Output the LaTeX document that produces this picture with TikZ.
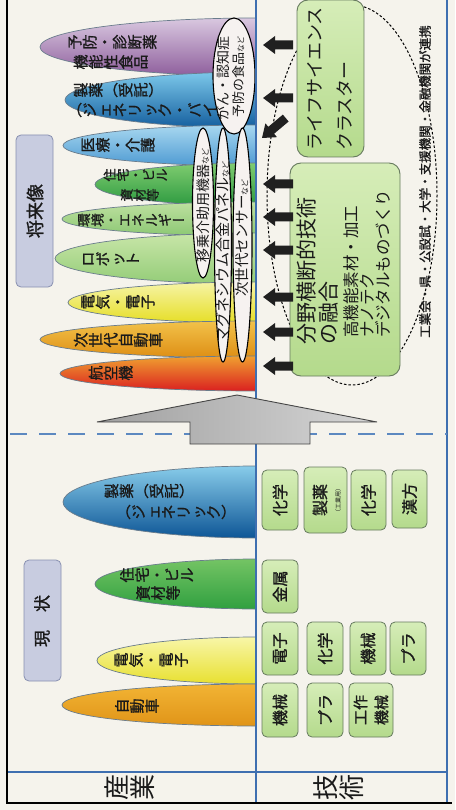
\documentclass[tikz,border=0pt]{standalone}
\usepackage{fontspec}
\usepackage{graphicx}
\newfontfamily\jp{Noto Sans CJK JP}
\newfontfamily\jpb[FakeBold=1.2]{Noto Sans CJK JP}
\makeatletter
\def\tv@end{\tv@end}
\def\tv@loop#1{\ifx#1\tv@end\else\tv@char#1\expandafter\tv@loop\fi}
\newcommand\tv[1]{\tv@loop#1\tv@end}
\def\tv@char#1{\ifx#1ー\makebox[1em]{#1}\else\ifx#1（\makebox[1em]{#1}\else\ifx#1）\makebox[1em]{#1}\else\rotatebox[origin=c]{90}{\makebox[1em]{\rule[-0.12em]{0pt}{1em}#1}}\fi\fi\fi}
\makeatother
\definecolor{bg}{HTML}{F5F3EC}
\definecolor{blueline}{HTML}{3E6FB0}
\definecolor{dashblue}{HTML}{5C88C0}
\definecolor{ellline}{HTML}{6A7C8C}
\definecolor{txtc}{HTML}{1A1A1A}
\definecolor{welfill}{HTML}{F6F2F0}
\definecolor{gtop}{HTML}{D6EDB8}
\definecolor{gbot}{HTML}{B4DA8C}
\definecolor{gline}{HTML}{667A5E}
\definecolor{labfill}{HTML}{C8CCE0}
\definecolor{labline}{HTML}{8890B0}
\definecolor{arrfill}{HTML}{202020}
\usetikzlibrary{shapes.geometric}
\begin{document}
\begin{tikzpicture}[x=1pt,y=-1pt,
  ell/.style={draw=ellline, line width=0.7pt},
  wel/.style={draw=black, line width=1.1pt, fill=welfill},
  tt/.style={inner sep=0pt, anchor=west, font=\jpb\fontsize{15}{15}\selectfont, text=txtc},
  ttc/.style={inner sep=0pt, font=\jpb\fontsize{15}{15}\selectfont, text=txtc},
  yk/.style={inner sep=0pt, rotate=90, text=txtc},
  gbig/.style={draw=gline, line width=0.9pt, rounded corners=11pt, top color=gtop, bottom color=gbot},
  sbox/.style={draw=gline, line width=0.8pt, rounded corners=5pt, top color=gtop, bottom color=gbot, rotate=90, inner sep=0pt, text=txtc, font=\jpb\fontsize{16}{17}\selectfont},
  lab/.style={draw=labline, line width=0.8pt, fill=labfill, rounded corners=5pt},
  arr/.style={fill=arrfill},
  bline/.style={draw=blueline, line width=2.2pt},
]
\useasboundingbox (0,0) rectangle (455,810);
\fill[bg] (0,0) rectangle (455,810);

% ---------- future ellipses ----------
\begin{scope}
\clip (8,0) rectangle (256,430);
\path[ell, top color={rgb,255:red,217;green,200;blue,224}, bottom color={rgb,255:red,142;green,94;blue,156}] (257,47) ellipse [x radius=217, y radius=29];
\node[tt] (f1a) at (67,42) {\tv{予防・診断薬}};
\node[tt] (f1b) at (73,62) {\tv{機能性食品}};
\path[ell, top color={rgb,255:red,124;green,200;blue,234}, bottom color={rgb,255:red,20;green,94;blue,158}] (257,100) ellipse [x radius=192, y radius=28];
\node[tt] (f2a) at (73,90) {\tv{製薬（受託）}};
\node[tt] (f2b) at (67,110) {\tv{（ジェネリック・バイオ）}};
\path[ell, top color={rgb,255:red,168;green,216;blue,240}, bottom color={rgb,255:red,78;green,154;blue,210}] (257,145.5) ellipse [x radius=194, y radius=20.5];
\node[tt] (f3) at (80,145) {\tv{医療・介護}};
\path[ell, top color={rgb,255:red,128;green,204;blue,112}, bottom color={rgb,255:red,44;green,154;blue,64}] (257,184.5) ellipse [x radius=162, y radius=21.5];
\node[tt, font=\jpb\fontsize{13}{13}\selectfont] (f4a) at (103,175) {\tv{住宅・ビル}};
\node[tt, font=\jpb\fontsize{13}{13}\selectfont] (f4b) at (120,195) {\tv{資材等}};
\path[ell, top color={rgb,255:red,190;green,224;blue,160}, bottom color={rgb,255:red,140;green,200;blue,116}] (257,219) ellipse [x radius=195, y radius=17];
\node[tt, font=\jpb\fontsize{13.5}{13.5}\selectfont] (f5) at (77,220) {\tv{環境・エネルギー}};
\path[ell, top color={rgb,255:red,200;green,230;blue,168}, bottom color={rgb,255:red,148;green,204;blue,120}] (257,258.5) ellipse [x radius=202, y radius=25.5];
\node[tt] (f6) at (80,259) {\tv{ロボット}};
\path[ell, top color={rgb,255:red,246;green,244;blue,166}, bottom color={rgb,255:red,230;green,222;blue,38}] (257,302.5) ellipse [x radius=189, y radius=20.5];
\node[tt] (f7) at (80,302) {\tv{電気・電子}};
\path[ell, top color={rgb,255:red,242;green,194;blue,74}, bottom color={rgb,255:red,222;green,142;blue,20}] (257,339.5) ellipse [x radius=217, y radius=18.5];
\node[tt] (f8) at (73,340) {\tv{次世代自動車}};
\path[ell, top color={rgb,255:red,240;green,160;blue,48}, bottom color={rgb,255:red,218;green,32;blue,32}] (257,373.5) ellipse [x radius=197, y radius=17.5];
\node[tt] (f9) at (88,373) {\tv{航空機}};
\end{scope}

% ---------- current ellipses ----------
\begin{scope}
\clip (8,440) rectangle (256,770);
\path[ell, top color={rgb,255:red,136;green,204;blue,234}, bottom color={rgb,255:red,14;green,86;blue,150}] (257,502) ellipse [x radius=194, y radius=36];
\node[ttc] (c1a) at (149,491) {\tv{製薬（受託）}};
\node[ttc] (c1b) at (176,512) {\tv{（ジェネリック）}};
\path[ell, top color={rgb,255:red,116;green,196;blue,100}, bottom color={rgb,255:red,48;green,160;blue,64}] (257,584) ellipse [x radius=162, y radius=25];
\node[ttc] (c2a) at (157,575) {\tv{住宅・ビル}};
\node[ttc] (c2b) at (158,593) {\tv{資材等}};
\path[ell, top color={rgb,255:red,248;green,246;blue,168}, bottom color={rgb,255:red,232;green,224;blue,48}] (257,660.5) ellipse [x radius=160, y radius=23.5];
\node[ttc] (c3) at (151,660) {\tv{電気・電子}};
\path[ell, top color={rgb,255:red,242;green,180;blue,52}, bottom color={rgb,255:red,224;green,148;blue,24}] (257,705) ellipse [x radius=195, y radius=21];
\node[ttc] (c4) at (137,706) {\tv{自動車}};
\end{scope}

% ---------- narrow white ellipses ----------
\path[wel] (234,76) ellipse [x radius=21, y radius=58];
\node[yk, anchor=west, font=\jp\fontsize{14}{14}\selectfont] (w1a) at (223,121) {がん・認知症};
\node[yk, anchor=west, font=\jp\fontsize{13}{13}\selectfont] (w1b) at (239,118) {予防の食品{\fontsize{8}{8}\selectfont など}};
\path[wel] (203,203) ellipse [x radius=10.5, y radius=75];
\node[yk, font=\jp\fontsize{14}{14}\selectfont] (w2) at (203,205) {移乗介助用機器{\fontsize{8}{8}\selectfont など}};
\path[wel] (223,245) ellipse [x radius=8.5, y radius=117];
\node[yk, font=\jp\fontsize{15}{15}\selectfont] (w3) at (223,252) {マグネシウム合金パネル{\fontsize{8}{8}\selectfont など}};
\path[wel] (242.5,245) ellipse [x radius=9.5, y radius=117];
\node[yk, font=\jp\fontsize{14.5}{14.5}\selectfont] (w4) at (242.5,238) {次世代センサー{\fontsize{8}{8}\selectfont など}};

% ---------- frame lines ----------
\draw[bline] (256,0) -- (256,803);
\draw[bline] (447,0) -- (447,803);
\draw[bline] (7,772) -- (447,772);
\draw[dashblue, line width=2.5pt, dash pattern=on 17pt off 12pt] (10,434) -- (447,434);
\draw[black, line width=1.2pt] (7,0) -- (7,803) -- (452,803);

% ---------- labels ----------
\path[lab] (16,135) rectangle (53,287);
\node[yk, font=\jpb\fontsize{18}{18}\selectfont] (lfut) at (35,211) {将来像};
\path[lab] (24,560) rectangle (61,681);
\node[yk, font=\jpb\fontsize{17}{17}\selectfont] (lcur) at (42,621) {現\hspace{18pt}状};
\node[inner sep=0pt, font=\jp\fontsize{26}{26}\selectfont, text=txtc] (hsan) at (130,787) {\tv{産業}};
\node[inner sep=0pt, font=\jp\fontsize{26}{26}\selectfont, text=txtc] (hgi) at (339,787) {\tv{技術}};

% ---------- dashed ellipse ----------
\draw[black, line width=1pt, dash pattern=on 2.5pt off 2pt] (352,195) ellipse [x radius=85, y radius=190];

% ---------- big green boxes ----------
\path[gbig] (297,0) rectangle (364,157);
\node[yk, anchor=west, font=\jp\fontsize{18}{18}\selectfont] (ls1) at (315,151) {ライフサイエンス};
\node[yk, anchor=west, font=\jp\fontsize{18}{18}\selectfont] (ls2) at (345,151) {クラスター};
\path[gbig] (290,163) rectangle (400,376);
\node[yk, anchor=west, font=\jp\fontsize{21}{21}\selectfont] (bk1) at (307,345) {分野横断的技術};
\node[yk, anchor=west, font=\jp\fontsize{21}{21}\selectfont] (bk2) at (329,345) {の融合};
\node[yk, anchor=west, font=\jp\fontsize{16.5}{16.5}\selectfont] (bk3) at (351,338) {高機能素材・加工};
\node[yk, anchor=west, font=\jp\fontsize{16.5}{16.5}\selectfont] (bk4) at (367,338) {ナノテク};
\node[yk, anchor=west, font=\jp\fontsize{16.5}{16.5}\selectfont] (bk5) at (383,338) {デジタルものづくり};
\node[yk, anchor=west, font=\jpb\fontsize{12.5}{12.5}\selectfont] (renkei) at (425,338) {工業会・県・公設試・大学・支援機関・金融機関が連携};

% ---------- black arrows ----------
\foreach \yy in {45,98,184,217,250,297,332,366}{
  \fill[arr] (263,\yy) -- ++(12,-9) -- ++(0,4.5) -- ++(18,0) -- ++(0,9) -- ++(-18,0) -- ++(0,4.5) -- cycle;
}
\fill[arr, shift={(262,138)}, rotate=40] (0,0) -- (12,-9) -- (12,-4.5) -- (31,-4.5) -- (31,4.5) -- (12,4.5) -- (12,9) -- cycle;

% ---------- grey big arrow ----------
\path[draw={rgb,255:red,70;green,70;blue,70}, line width=0.9pt, left color={rgb,255:red,160;green,160;blue,160}, right color={rgb,255:red,214;green,214;blue,214}]
  (190,444) -- (190,422) -- (97,422) -- (237,395) -- (377,422) -- (310,422) -- (310,444) -- cycle;

% ---------- small technology boxes ----------
\node[sbox, minimum width=60pt, minimum height=36pt] (t11) at (280,500) {化学};
\node[sbox, minimum width=66pt, minimum height=43pt] (t12) at (325.5,500) {};
\node[yk, font=\jpb\fontsize{16}{16}\selectfont] (t12a) at (320,500) {製薬};
\node[yk, font=\jp\fontsize{6}{6}\selectfont] (t12b) at (338,500) {（工業用）};
\node[sbox, minimum width=60pt, minimum height=35pt] (t13) at (368.5,500) {化学};
\node[sbox, minimum width=58pt, minimum height=35pt] (t14) at (409.5,499) {漢方};
\node[sbox, minimum width=53pt, minimum height=36pt] (t21) at (280,586.5) {金属};
\node[sbox, minimum width=53pt, minimum height=36pt] (t31) at (280,648.5) {電子};
\node[sbox, minimum width=53pt, minimum height=36pt] (t32) at (325,648.5) {化学};
\node[sbox, minimum width=53pt, minimum height=36pt] (t33) at (368,648.5) {機械};
\node[sbox, minimum width=53pt, minimum height=36pt] (t34) at (408,648.5) {プラ};
\node[sbox, minimum width=54pt, minimum height=36pt] (t41) at (280,710) {機械};
\node[sbox, minimum width=54pt, minimum height=36pt] (t42) at (325,710) {プラ};
\node[sbox, minimum width=54pt, minimum height=44pt, align=left, font=\jpb\fontsize{15}{21}\selectfont] (t43) at (371,710) {工作\\機械};
\end{tikzpicture}
\end{document}
